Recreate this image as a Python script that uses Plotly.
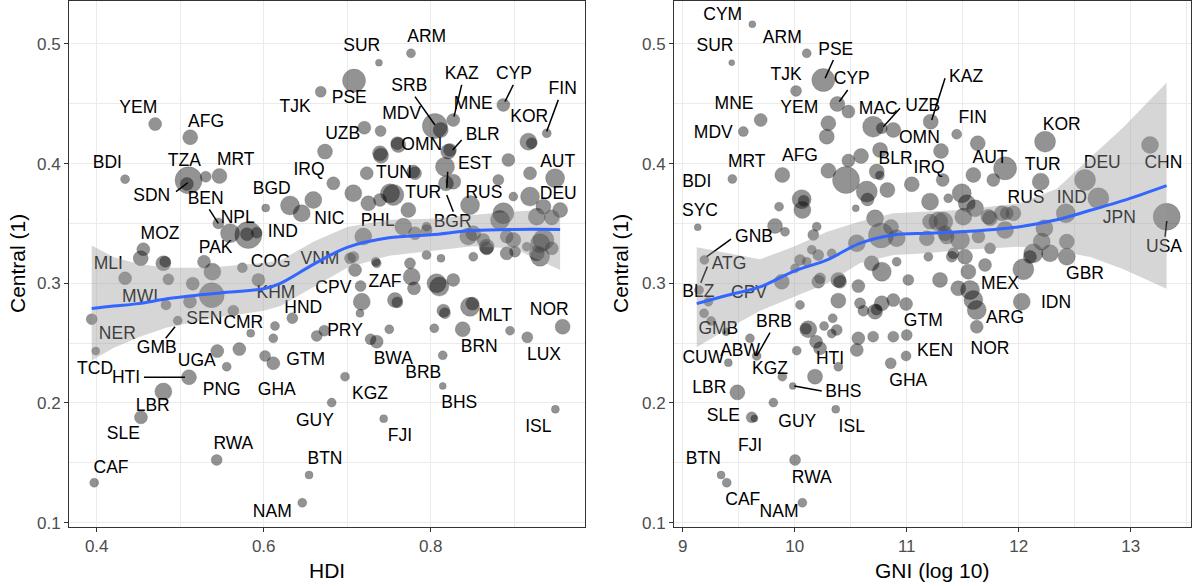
import plotly.graph_objects as go

# ---------------- data: HDI panel ----------------
hdi_x = [0.470,0.512,0.434,0.510,0.5305,0.547,0.508,0.5457,0.5597,0.5816,0.5916,0.580,0.6024,0.6315,0.6455,
         0.4558,0.4527,0.4798,0.482,0.434,0.4858,0.5285,0.5385,0.5744,0.5936,0.515,0.5377,0.5117,0.483,0.5636,
         0.394,0.3988,0.497,0.5844,0.6135,0.6115,0.6343,0.5444,0.5708,0.5557,0.6016,0.6115,0.5105,0.4798,0.453,
         0.5437,0.397,0.6462,0.6543,0.6814,0.6974,0.7437,0.8144,0.8144,0.9493,0.9157,0.895,0.958,0.8383,0.8043,
         0.8471,0.850,0.8152,0.817,0.8103,0.827,0.780,0.7572,0.760,0.7174,0.716,0.7153,0.7504,0.728,0.7353,
         0.6635,0.6726,0.7752,0.7772,0.807,0.795,0.8123,0.7341,0.7094,0.7034,0.7193,0.7672,0.7812,0.7952,0.7732,
         0.7513,0.7393,0.7253,0.7073,0.6834,0.6594,0.7234,0.7393,0.6734,0.7792,0.760,0.8171,0.8231,0.8183,0.8471,
         0.845,0.863,0.867,0.851,0.883,0.891,0.891,0.901,0.915,0.931,0.931,0.945,0.919,0.935,0.955,
         0.945,0.899,0.881,0.893,0.919,0.949,0.917,0.921,0.939,0.7764,0.738,0.7082,0.6683,0.7205,0.740,
         0.7612,0.7405,0.7553,0.7812,0.805,0.812,0.827,0.887,0.821,0.827,0.887,0.927,0.795,0.851,0.867,
         0.899,0.935,0.927,0.7073,0.7353]
hdi_y = [0.433,0.422,0.387,0.386,0.389,0.3896,0.383,0.350,0.3418,0.3403,0.3423,0.341,0.3629,0.365,0.3585,
         0.3284,0.3209,0.3167,0.318,0.3042,0.3033,0.318,0.3097,0.313,0.3028,0.2997,0.290,0.2846,0.2819,0.2771,
         0.270,0.2434,0.2688,0.2582,0.2643,0.254,0.2708,0.2434,0.245,0.2303,0.2393,0.2332,0.2215,0.2095,0.188,
         0.1524,0.1334,0.1167,0.1398,0.2003,0.222,0.1869,0.2142,0.2398,0.1947,0.2549,0.2604,0.2637,0.2616,0.2624,
         0.2804,0.283,0.2771,0.275,0.2972,0.3028,0.2958,0.286,0.284,0.2846,0.2977,0.275,0.2616,0.2532,0.2512,
         0.256,0.2604,0.3167,0.3055,0.300,0.3236,0.3209,0.318,0.3111,0.3209,0.339,0.3473,0.3418,0.3445,0.3612,
         0.3752,0.3696,0.3668,0.3752,0.3835,0.3696,0.3919,0.4086,0.410,0.3933,0.417,0.3974,0.4114,0.3835,0.3653,
         0.339,0.3362,0.3292,0.3222,0.3529,0.339,0.325,0.3264,0.3306,0.3334,0.3222,0.3292,0.3724,0.364,0.3612,
         0.355,0.3724,0.3863,0.403,0.3919,0.3877,0.4183,0.417,0.4253,0.4921,0.4843,0.4693,0.460,0.430,0.4272,
         0.4155,0.4066,0.3738,0.3919,0.4314,0.428,0.4364,0.449,0.410,0.3849,0.3585,0.3556,0.3473,0.3418,0.3306,
         0.3362,0.3362,0.325,0.322,0.3167]
hdi_w = [6,7,4,13,5,7,6,5,9,13,5,6,3.5,9,8,
         6,7,7,5,6,5,6,8,4.5,6,6,12,6,4.5,5,
         5,3.5,4,3.5,4,4,5,6,6,4,5,6,7,8,6,
         5,4,4,3.5,4,4,3.5,3,4,3.5,5,4,7,7,4,
         9,6,6,5,9,6,6,7,5,8,5,3.5,4,5,6,
         5,5,5,8,9,4,3.5,4,6,5,8,8,6,5,7,
         9,6,7,8,6,8,6,7,7,6,6,9,6,7,9,
         8,6,6,4,9,6,6,5,4,9,9,6,9,7,7,
         7,4,5,6,6,9,8,5,4,4,3,11,5,6,5,
         7,7,10,6,12,7,6,6,7,7,10,8,4,7,7,
         7,10,7,5,4]

hdi_labels = ["YEM","AFG","BDI","TZA","MRT","SDN","BEN","BGD","NPL","IND","MOZ","PAK","COG","MLI","MWI",
              "KHM","SEN","CMR","NER","GMB","UGA","TCD","HTI","PNG","GHA","LBR","SLE","RWA","CAF","NAM",
              "CPV","ZAF","HND","PRY","GTM","BWA","BRB","KGZ","BHS","GUY","FJI","BTN","MLT","NOR","BRN",
              "LUX","ISL","ARM","SUR","KAZ","CYP","FIN","SRB","PSE","TJK","MNE","MDV","KOR","UZB","BLR",
              "OMN","IRQ","TUN","EST","TUR","RUS","AUT","DEU","NIC","PHL","BGR","VNM"]
hdi_lab_x = [0.4498,0.5309,0.4127,0.5049,0.5665,0.4659,0.5305,0.6096,0.5689,0.6228,0.4758,0.5425,0.6084,0.4139,0.4519,
             0.6147,0.5289,0.5756,0.4247,0.4719,0.5198,0.398,0.4351,0.5497,0.6156,0.4671,0.4319,0.5636,0.4171,0.6103,
             0.6834,0.7453,0.6474,0.6974,0.6503,0.7552,0.7911,0.7273,0.8342,0.6614,0.7632,0.6734,0.877,0.942,0.8582,
             0.9357,0.9289,0.7952,0.7174,0.8371,0.8998,0.9581,0.7744,0.7025,0.6375,0.851,0.7653,0.9181,0.6946,0.8623,
             0.7892,0.6543,0.756,0.853,0.7911,0.8638,0.9521,0.9528,0.6786,0.7365,0.8263,0.6674]
hdi_lab_y = [0.4462,0.4342,0.4003,0.4016,0.4022,0.3723,0.3702,0.3779,0.3543,0.3426,0.3404,0.3292,0.3172,0.3159,0.2883,
             0.2916,0.2699,0.2666,0.2568,0.2451,0.2345,0.2282,0.2206,0.2103,0.2103,0.1969,0.1733,0.1649,0.1454,0.1084,
             0.2958,0.3005,0.2785,0.2596,0.2353,0.2359,0.2242,0.2073,0.1992,0.1844,0.1718,0.153,0.2721,0.2771,0.2465,
             0.2393,0.1794,0.5055,0.4977,0.474,0.474,0.4616,0.4642,0.454,0.447,0.4495,0.4406,0.4383,0.4239,0.4233,
             0.415,0.3945,0.3919,0.3988,0.3752,0.3752,0.4011,0.3738,0.3535,0.3515,0.3506,0.3195]
# connector segments (from label to point)
hdi_seg = [((0.495,0.3765),(0.509,0.384)), ((0.5348,0.3618),(0.5456,0.3501)), ((0.4826,0.254),(0.4938,0.2637)),
           ((0.4566,0.2215),(0.5057,0.2215)), ((0.8371,0.4657),(0.8279,0.4392)), ((0.8989,0.4657),(0.889,0.4517)),
           ((0.9528,0.4532),(0.9389,0.4267)), ((0.7812,0.4559),(0.8051,0.4322)), ((0.8371,0.4197),(0.8263,0.4114)),
           ((0.8204,0.3932),(0.8192,0.3794)), ((0.8192,0.3738),(0.8271,0.3598))]

# loess fit
hdi_fit_x = [0.394,0.42,0.45,0.484,0.52,0.55,0.60,0.62,0.66,0.70,0.75,0.80,0.85,0.90,0.955]
hdi_fit   = [0.279,0.281,0.283,0.287,0.290,0.292,0.2955,0.300,0.316,0.330,0.338,0.3405,0.344,0.345,0.345]
hdi_lo    = [0.2355,0.246,0.255,0.263,0.268,0.272,0.277,0.281,0.297,0.313,0.323,0.327,0.331,0.329,0.311]
hdi_hi    = [0.3315,0.322,0.316,0.313,0.313,0.314,0.317,0.319,0.335,0.347,0.353,0.354,0.357,0.360,0.362]

# ---------------- data: GNI panel ----------------
gni_x = [9.6215,9.4375,10.107,10.255,10.012,10.380,10.479,9.696,9.541,10.30,10.286,10.70,10.777,10.88,9.443,
         9.889,10.30,10.458,10.479,10.592,10.762,10.732,10.76,10.643,10.65,10.827,10.062,10.08,10.068,9.86,
         10.545,9.134,9.824,9.913,10.166,10.196,10.77,10.86,10.554,10.152,10.047,10.21,10.003,9.884,10.226,
         10.389,10.568,10.687,10.777,10.33,10.107,9.193,9.146,9.229,9.19,9.253,9.387,9.60,9.66,9.407,
         9.889,9.982,9.488,9.809,9.616,9.64,10.366,10.003,9.342,9.393,10.068,10.181,10.389,10.018,10.19,
         10.226,10.121,10.10,10.262,10.339,10.375,10.33,10.047,10.389,10.613,10.717,10.73,10.777,10.88,10.568,
         10.554,10.70,10.88,10.857,10.21,10.404,10.583,11.0,11.625,11.214,11.446,11.634,11.306,11.045,11.321,
         11.595,11.773,11.878,11.491,11.208,11.371,11.536,11.61,11.505,11.327,11.744,11.893,11.208,10.717,10.91,
         11.179,11.357,11.476,11.64,11.52,11.416,11.744,11.193,10.91,11.014,11.297,11.46,11.565,11.595,11.625,
         11.55,12.235,13.172,12.196,12.592,12.711,13.321,12.42,12.229,12.205,12.429,12.279,12.13,12.10,12.429,
         12.041,11.729,11.848,11.952,11.878,11.342,11.699,11.402,10.994,10.994,12.027,11.282]
gni_y = [0.5164,0.4843,0.4921,0.4698,0.4607,0.4498,0.4434,0.4364,0.4267,0.4337,0.4225,0.4308,0.4295,0.4281,0.3871,
         0.3905,0.394,0.3863,0.4025,0.4063,0.4114,0.3933,0.390,0.3766,0.370,0.378,0.3702,0.369,0.3612,0.364,
         0.3626,0.3468,0.3479,0.343,0.3404,0.3473,0.340,0.347,0.3334,0.328,0.3195,0.3236,0.3125,0.3013,0.3042,
         0.3028,0.2977,0.3167,0.3097,0.325,0.318,0.3195,0.2944,0.2846,0.275,0.2685,0.2596,0.254,0.2393,0.2337,
         0.222,0.2142,0.2089,0.2003,0.188,0.187,0.1947,0.1524,0.1398,0.1334,0.1167,0.222,0.2303,0.2437,0.2512,
         0.2457,0.2616,0.262,0.2643,0.2708,0.261,0.258,0.2819,0.2855,0.2771,0.2763,0.278,0.2833,0.286,0.254,
         0.2443,0.2554,0.2554,0.2332,0.3013,0.3013,0.2833,0.2568,0.2637,0.435,0.4245,0.417,0.4105,0.3827,0.3863,
         0.3905,0.3863,0.396,0.3752,0.3682,0.371,0.3668,0.3626,0.3556,0.3515,0.3543,0.3585,0.3515,0.3543,0.3376,
         0.3376,0.339,0.3362,0.339,0.3222,0.325,0.3292,0.3222,0.318,0.3028,0.3028,0.2958,0.2944,0.286,0.2777,
         0.3097,0.4183,0.4155,0.3849,0.3863,0.371,0.3556,0.3585,0.346,0.3348,0.3348,0.325,0.325,0.322,0.3222,
         0.3117,0.3556,0.3585,0.3585,0.3445,0.3418,0.3153,0.3222,0.2827,0.2393,0.2846,0.3515]
gni_w = [3,2.5,4,11,5,7,6,6,4.5,7,7,10,5,7,4,
         7,7,13,6,7,7,7,4,10,6,7,9,5,8,4,
         3,3,7,4,5,4,12,7,8,4,5,5,4,7,5,
         7,6,7,9,4,4,4,4,4,4,4,3.5,4,4,3.5,
         4,3,7,4,5,3,3.5,5,3.5,4,4,7,4,4,6,
         6,8,5,4,4,5,4,4,7,5,7,5,7,6,6,
         6,5,5,5,6,6,5,5,6,7,4.5,7,7,7,6,
         7,6,11,9,8,4,8,8,8,9,7,6,7,8,8,
         7,7,9,6,7,5,5,4,4,5,7,7,9,9,9,
         7,10,8,8,10,10,13,9,8,8,7,8,9,6,8,
         10,7,7,7,8,7,6,5,6,4.5,8,9]

gni_labels = ["CYM","SUR","ARM","PSE","TJK","CYP","MNE","YEM","MAC","MDV","MRT","AFG","BDI","SYC","GNB",
              "ATG","BLZ","CPV","GMB","BRB","ABW","CUW","KGZ","HTI","LBR","BHS","SLE","GUY","ISL","FJI",
              "BTN","RWA","CAF","NAM","UZB","FIN","OMN","BLR","IRQ","AUT","GTM","MEX","ARG","KAZ","KOR",
              "TUR","DEU","CHN","RUS","IND","JPN","USA","GBR","IDN","NOR","KEN","GHA"]
gni_lab_x = [9.357,9.288,9.889,10.366,9.922,10.509,9.458,10.041,10.746,9.273,9.571,10.047,9.125,9.154,9.637,
             9.413,9.139,9.592,9.318,9.815,9.512,9.184,9.779,10.315,9.238,10.434,9.363,10.023,10.509,9.601,
             9.184,10.152,9.536,9.86,11.143,11.589,11.113,10.90,11.20,11.744,11.148,11.833,11.878,11.53,12.384,
             12.214,12.746,13.291,12.065,12.473,12.898,13.297,12.592,12.333,11.744,11.253,11.014]
gni_lab_y = [0.5236,0.4977,0.5047,0.4943,0.4734,0.4698,0.4495,0.4456,0.4448,0.4253,0.4011,0.4058,0.3844,0.3598,0.3384,
             0.3159,0.2921,0.2911,0.261,0.2671,0.2429,0.2368,0.2276,0.2365,0.2123,0.2086,0.1886,0.1839,0.1797,0.1635,
             0.1524,0.1365,0.1184,0.1084,0.4475,0.4378,0.4211,0.403,0.3961,0.4044,0.2677,0.2986,0.2702,0.4721,0.4314,
             0.3979,0.4003,0.4003,0.3704,0.3704,0.3537,0.3301,0.3069,0.2827,0.2449,0.2429,0.2178]
gni_seg = [((10.345,0.4865),(10.271,0.4713)), ((10.473,0.4615),(10.398,0.4517)), ((10.94,0.4462),(10.791,0.4308)),
           ((11.342,0.4713),(11.223,0.4364)), ((9.431,0.3368),(9.214,0.3222)), ((9.22,0.3139),(9.161,0.3005)),
           ((9.779,0.2587),(9.661,0.2393)), ((9.996,0.2142),(10.241,0.210)), ((13.321,0.352),(13.306,0.3389))]

gni_fit_x = [9.125,9.4,9.69,9.99,10.29,10.58,10.88,11.18,11.48,12.01,12.34,12.64,12.93,13.32]
gni_fit   = [0.283,0.290,0.297,0.310,0.3195,0.3334,0.3404,0.3418,0.343,0.3473,0.353,0.361,0.369,0.3816]
gni_lo    = [0.2465,0.262,0.277,0.2888,0.300,0.3167,0.3236,0.325,0.3278,0.3306,0.327,0.322,0.312,0.2955]
gni_hi    = [0.330,0.325,0.320,0.3306,0.343,0.3515,0.3585,0.360,0.3612,0.3668,0.379,0.405,0.430,0.4675]

# ---------------- figure ----------------
FONT = "Liberation Sans, Arial, sans-serif"
W, H = 1192, 586
fig = go.Figure()

def add_panel(xs, ys, ws, labs, lx, ly, segs, fx, fy, flo, fhi, xa, ya):
    fig.add_trace(go.Scatter(x=xs, y=ys, mode="markers", xaxis=xa, yaxis=ya,
                             marker=dict(size=[2 * w + 1 for w in ws], color="rgba(0,0,0,0.6)",
                                         line=dict(width=0.7, color="rgba(0,0,0,0.35)")),
                             hoverinfo="skip"))
    sx, sy = [], []
    for (a, b) in segs:
        sx += [a[0], b[0], None]
        sy += [a[1], b[1], None]
    fig.add_trace(go.Scatter(x=sx, y=sy, mode="lines", xaxis=xa, yaxis=ya,
                             line=dict(color="black", width=1.5), hoverinfo="skip"))
    fig.add_trace(go.Scatter(x=lx, y=ly, text=labs, mode="text", xaxis=xa, yaxis=ya,
                             textposition="middle center",
                             textfont=dict(family=FONT, size=17.5, color="black"), hoverinfo="skip"))
    fig.add_trace(go.Scatter(x=fx + fx[::-1], y=fhi + flo[::-1], mode="lines", fill="toself",
                             xaxis=xa, yaxis=ya, fillcolor="rgba(153,153,153,0.4)",
                             line=dict(width=0), hoverinfo="skip"))
    fig.add_trace(go.Scatter(x=fx, y=fy, mode="lines", xaxis=xa, yaxis=ya,
                             line=dict(color="#3366FF", width=3, shape="spline"), hoverinfo="skip"))

add_panel(hdi_x, hdi_y, hdi_w, hdi_labels, hdi_lab_x, hdi_lab_y, hdi_seg,
          hdi_fit_x, hdi_fit, hdi_lo, hdi_hi, "x", "y")
add_panel(gni_x, gni_y, gni_w, gni_labels, gni_lab_x, gni_lab_y, gni_seg,
          gni_fit_x, gni_fit, gni_lo, gni_hi, "x2", "y2")

ydom = [1 - 527 / H, 1 - 1 / H]
yrange = [0.0964, 0.5358]
common = dict(showline=True, mirror=True, linecolor="#333333", linewidth=1,
              showgrid=True, gridcolor="#EBEBEB", gridwidth=1.1, zeroline=False,
              ticks="outside", ticklen=4, tickcolor="#333333", tickwidth=1,
              tickfont=dict(family=FONT, size=17, color="#4D4D4D"), automargin=False)

fig.update_layout(
    width=W, height=H, margin=dict(l=0, r=0, t=0, b=0),
    paper_bgcolor="white", plot_bgcolor="white", showlegend=False,
    xaxis=dict(domain=[69 / W, 585 / W], range=[0.3668, 0.9848], tick0=0.4, dtick=0.2,
               tickformat=".1f", anchor="y",
               minor=dict(dtick=0.1, tick0=0.4, showgrid=True, gridcolor="#EBEBEB", gridwidth=0.6, ticks=""),
               **common),
    yaxis=dict(domain=ydom, range=yrange, tick0=0.1, dtick=0.1, tickformat=".1f", anchor="x",
               minor=dict(dtick=0.05, tick0=0.1, showgrid=True, gridcolor="#EBEBEB", gridwidth=0.6, ticks=""),
               **common),
    xaxis2=dict(domain=[674 / W, 1191 / W], range=[8.922, 13.538], tick0=9, dtick=1, anchor="y2",
                minor=dict(dtick=0.5, tick0=9, showgrid=True, gridcolor="#EBEBEB", gridwidth=0.6, ticks=""),
                **common),
    yaxis2=dict(domain=ydom, range=yrange, tick0=0.1, dtick=0.1, tickformat=".1f", anchor="x2",
                minor=dict(dtick=0.05, tick0=0.1, showgrid=True, gridcolor="#EBEBEB", gridwidth=0.6, ticks=""),
                **common),
)

title_font = dict(family=FONT, size=21, color="black")
for txt, x, y, ang in [("HDI", 327 / W, 1 - 570 / H, 0),
                       ("GNI (log 10)", 932 / W, 1 - 570 / H, 0),
                       ("Central (1)", 17 / W, 1 - 264 / H, -90),
                       ("Central (1)", 620 / W, 1 - 264 / H, -90)]:
    fig.add_annotation(text=txt, x=x, y=y, xref="paper", yref="paper", showarrow=False,
                       xanchor="center", yanchor="middle", textangle=ang, font=title_font)

fig.write_html("out.html")
